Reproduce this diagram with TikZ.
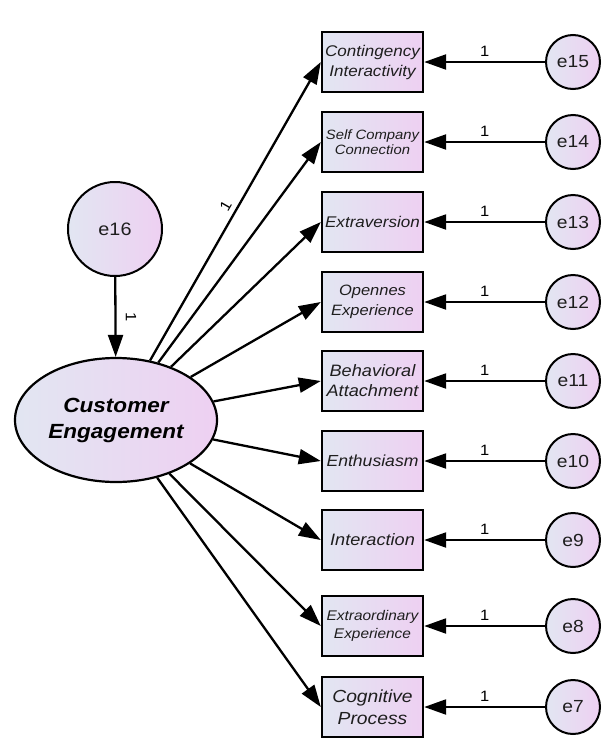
\documentclass[tikz,border=0pt]{standalone}
\usepackage{fontspec}
\setmainfont{Liberation Sans}[FakeStretch=1.1]
\usetikzlibrary{arrows.meta,shapes.geometric}
\definecolor{cA}{RGB}{226,230,242}
\definecolor{cB}{RGB}{238,208,242}
\definecolor{tx}{RGB}{30,30,30}
\newcommand{\fs}[2]{\fontsize{#1}{#2}\selectfont}
\begin{document}
\begin{tikzpicture}[x=1pt,y=-1pt,
  obs/.style={draw, line width=2.4pt, minimum width=101pt, minimum height=60pt, inner sep=0pt, align=center, left color=cA, right color=cB, text=tx},
  err/.style={circle, draw, line width=2pt, minimum size=54pt, inner sep=0pt, left color=cA, right color=cB, text=tx, font=\fs{17.5}{17}},
  lat/.style={ellipse, draw, line width=2.2pt, minimum width=202pt, minimum height=124pt, inner sep=0pt, align=center, left color=cA, right color=cB, font=\bfseries\itshape\fs{20.5}{26}},
  arr/.style={-{Triangle[length=22pt,width=15pt]}, line width=2.3pt},
  lab/.style={font=\fs{15}{15}, inner sep=1pt}]
\useasboundingbox (0,0) rectangle (608,742);
\node[lat] (ce) at (116,420) {Customer\\Engagement};
\node[err, minimum size=94pt, font=\fs{18}{18}] (e16) at (115,229) {e16};
\node[obs, font=\itshape\fs{15.5}{20}] (b1) at (372.5,62) {Contingency\\Interactivity};
\node[obs, font=\itshape\fs{13.5}{15}] (b2) at (372.5,142) {Self Company\\Connection};
\node[obs, font=\itshape\fs{15.5}{18}] (b3) at (372.5,222) {Extraversion};
\node[obs, font=\itshape\fs{15}{20}] (b4) at (372.5,302) {Opennes\\Experience};
\node[obs, font=\itshape\fs{16.5}{20}] (b5) at (372.5,381) {Behavioral\\Attachment};
\node[obs, font=\itshape\fs{16}{18}] (b6) at (372.5,461) {Enthusiasm};
\node[obs, font=\itshape\fs{16.5}{18}] (b7) at (372.5,540) {Interaction};
\node[obs, font=\itshape\fs{14}{18}] (b8) at (372.5,626) {Extraordinary\\Experience};
\node[obs, font=\itshape\fs{17.5}{22}] (b9) at (372.5,707) {Cognitive\\Process};
\node[err] (e15) at (573,62) {e15};
\node[err] (e14) at (573,142) {e14};
\node[err] (e13) at (573,222) {e13};
\node[err] (e12) at (573,302) {e12};
\node[err] (e11) at (573,381) {e11};
\node[err] (e10) at (573,461) {e10};
\node[err] (e9) at (573,540) {e9};
\node[err] (e8) at (573,626) {e8};
\node[err] (e7) at (573,707) {e7};
\draw[arr] (e16) -- (ce);
\node[lab, rotate=-90] (l16) at (131,317) {1};
\draw[arr] (ce) -- (b1.west) node[lab, midway, sloped, above=4pt] {1};
\foreach \b in {b2,b3,b4,b5,b6,b7,b8,b9} \draw[arr] (ce) -- (\b.west);
\foreach \e/\b in {e15/b1,e14/b2,e13/b3,e12/b4,e11/b5,e10/b6,e9/b7,e8/b8,e7/b9}
  \draw[arr] (\e) -- (\b) node[lab, midway, above=3pt] {1};
\end{tikzpicture}
\end{document}
